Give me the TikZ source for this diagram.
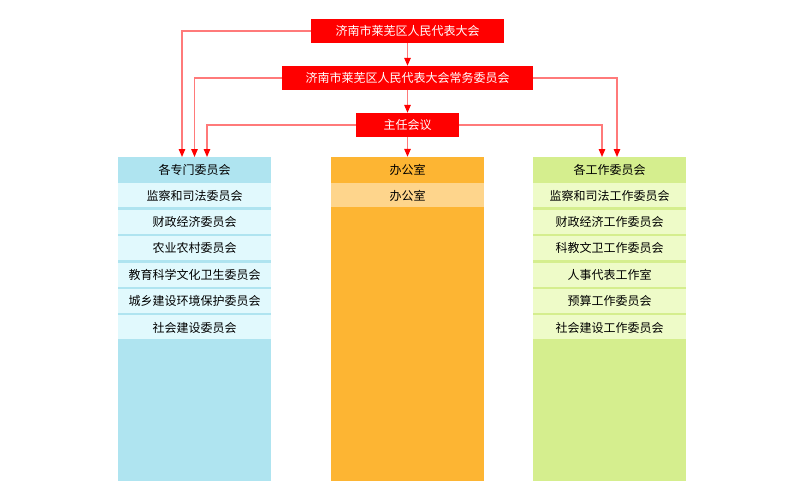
\documentclass[tikz,border=0pt]{standalone}
\usepackage{fontspec}
\setmainfont{Noto Sans CJK SC}
\usetikzlibrary{arrows.meta}
\definecolor{boxred}{HTML}{FF0000}
\definecolor{linkred}{HTML}{FF7A7A}
\definecolor{bluebase}{HTML}{AFE4F0}
\definecolor{bluelight}{HTML}{E1F9FD}
\definecolor{orangebase}{HTML}{FDB533}
\definecolor{orangelight}{HTML}{FED58C}
\definecolor{greenbase}{HTML}{D5EE8E}
\definecolor{greenlight}{HTML}{EEFBC8}
\begin{document}
\begin{tikzpicture}[x=1pt,y=-1pt,
  txt/.style={font=\fontsize{12}{14}\selectfont, inner sep=0pt, text height=10pt, text depth=0.5pt},
  redbox/.style={txt, fill=boxred, text=white, minimum height=24pt},
  conn/.style={draw=linkred, line width=1.3pt, -{Triangle[length=8pt,width=6.5pt,color=boxred,fill=boxred]}},
  headbox/.style={txt, minimum width=153pt, minimum height=26pt, text=black},
  rowbox/.style={txt, minimum width=153pt, minimum height=24pt, text=black}]
\useasboundingbox[fill=white] (0,0) rectangle (800,500);

% top red boxes
\node[redbox, minimum width=193pt] (npc) at (407.5,31) {济南市莱芜区人民代表大会};
\node[redbox, minimum width=251pt] (standing) at (407.5,78) {济南市莱芜区人民代表大会常务委员会};
\node[redbox, minimum width=103pt] (meeting) at (407.5,125) {主任会议};

% columns
\fill[bluebase] (118,157) rectangle (271,481);
\fill[orangebase] (331,157) rectangle (484,481);
\fill[greenbase] (533,157) rectangle (686,481);

\node[headbox, fill=bluebase] (h1) at (194.5,170) {各专门委员会};
\node[headbox, fill=orangebase] (h2) at (407.5,170) {办公室};
\node[headbox, fill=greenbase] (h3) at (609.5,170) {各工作委员会};

\foreach \t [count=\i] in {监察和司法委员会,财政经济委员会,农业农村委员会,教育科学文化卫生委员会,城乡建设环境保护委员会,社会建设委员会}
  \node[rowbox, fill=bluelight] (l\i) at (194.5,{195.3+26.4*(\i-1)}) {\t};

\node[rowbox, fill=orangelight] (m1) at (407.5,195.3) {办公室};

\foreach \t [count=\i] in {监察和司法工作委员会,财政经济工作委员会,科教文卫工作委员会,人事代表工作室,预算工作委员会,社会建设工作委员会}
  \node[rowbox, fill=greenlight] (r\i) at (609.5,{195.3+26.4*(\i-1)}) {\t};

% arrow end coordinates
\coordinate (a1) at (182,157);
\coordinate (a2) at (194.5,157);
\coordinate (a3) at (207,157);
\coordinate (b2) at (617,157);
\coordinate (b3) at (602,157);

% connectors
\draw[conn] (npc.south) -- (standing.north);
\draw[conn] (standing.south) -- (meeting.north);
\draw[conn] (meeting.south) -- (h2.north);
\draw[conn] (npc.west) -| (a1);
\draw[conn] (standing.west) -| (a2);
\draw[conn] (meeting.west) -| (a3);
\draw[conn] (standing.east) -| (b2);
\draw[conn] (meeting.east) -| (b3);
\end{tikzpicture}
\end{document}
